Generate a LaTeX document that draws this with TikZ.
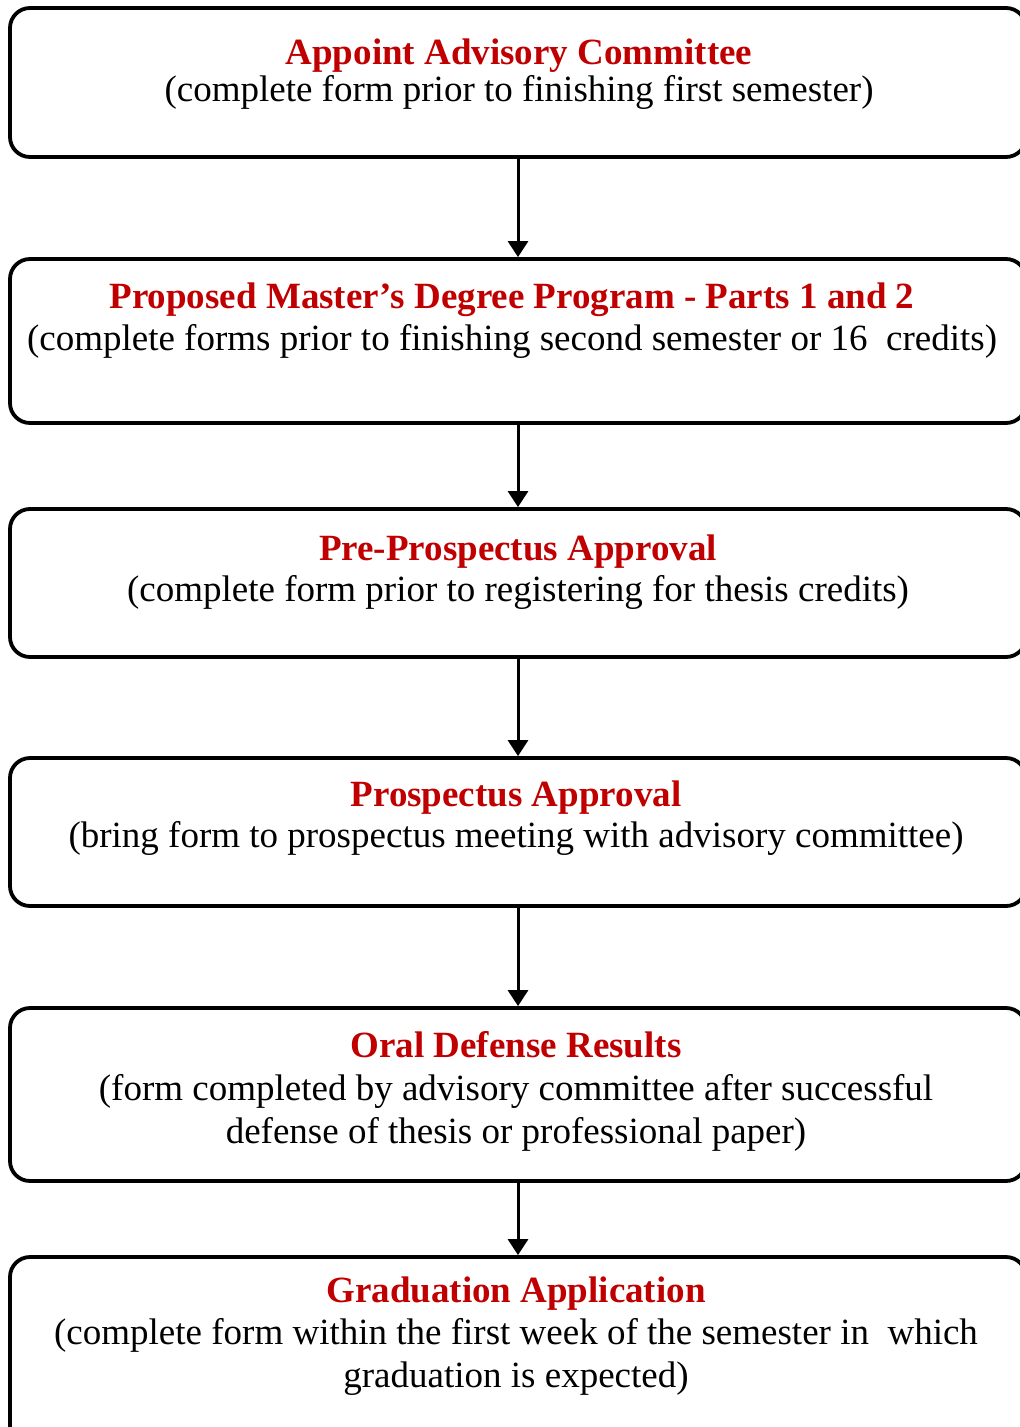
\documentclass[tikz,border=0pt]{standalone}
\usepackage{fontspec}
\setmainfont{Liberation Serif}
\usetikzlibrary{arrows.meta}
\definecolor{titlered}{HTML}{C00000}
\tikzset{
  stepbox/.style={draw=black, line width=3.8pt, rounded corners=20pt, minimum width=1016pt, inner sep=0pt},
  ttl/.style={anchor=base, inner sep=0pt, text=titlered, font=\fontsize{37}{43}\selectfont\bfseries},
  bdy/.style={anchor=base, inner sep=0pt, text=black, font=\fontsize{37}{43}\selectfont},
  arr/.style={line width=3pt, -{Triangle[width=20pt,length=16pt]}}
}
\begin{document}
\begin{tikzpicture}[x=1pt,y=-1pt]
\useasboundingbox (0,0) rectangle (1020,1427);
% boxes
\node[stepbox, minimum height=149pt] (b1) at (518,82.5) {};
\node[stepbox, minimum height=164pt] (b2) at (518,341) {};
\node[stepbox, minimum height=148pt] (b3) at (518,583) {};
\node[stepbox, minimum height=148pt] (b4) at (518,832) {};
\node[stepbox, minimum height=173pt] (b5) at (518,1094.5) {};
\node[stepbox, minimum height=200pt] (b6) at (518,1357) {};
% texts
\node[ttl] (t1) at (519,64) {Appoint Advisory Committee};
\node[bdy] (d1) at (519,101) {(complete form prior to finishing first semester)};
\node[ttl] (t2) at (512,308) {Proposed Master’s Degree Program - Parts 1 and 2};
\node[bdy] (d2) at (512,350) {(complete forms prior to finishing second semester or 16\ \ credits)};
\node[ttl] (t3) at (518,560) {Pre-Prospectus Approval};
\node[bdy] (d3) at (518,601) {(complete form prior to registering for thesis credits)};
\node[ttl] (t4) at (516,806) {Prospectus Approval};
\node[bdy] (d4) at (516,847) {(bring form to prospectus meeting with advisory committee)};
\node[ttl] (t5) at (516,1057) {Oral Defense Results};
\node[bdy] (d5a) at (516,1100) {(form completed by advisory committee after successful};
\node[bdy] (d5b) at (516,1143) {defense of thesis or professional paper)};
\node[ttl] (t6) at (516,1302) {Graduation Application};
\node[bdy] (d6a) at (516,1344) {(complete form within the first week of the semester in\ \ which};
\node[bdy] (d6b) at (516,1387) {graduation is expected)};
% arrows
\draw[arr] (b1.south) -- (b2.north);
\draw[arr] (b2.south) -- (b3.north);
\draw[arr] (b3.south) -- (b4.north);
\draw[arr] (b4.south) -- (b5.north);
\draw[arr] (b5.south) -- (b6.north);
\end{tikzpicture}
\end{document}
